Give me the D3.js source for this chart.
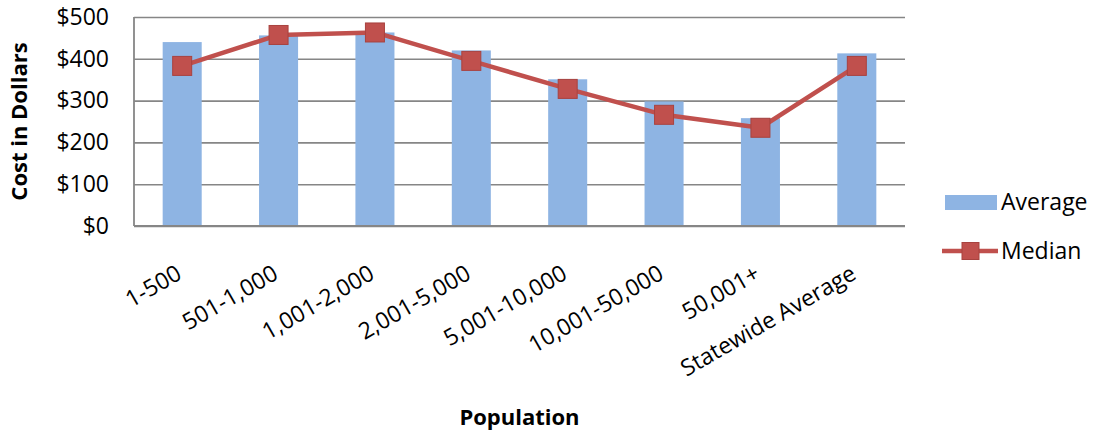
<!DOCTYPE html>
<html>
<head>
<meta charset="utf-8">
<script src="https://cdn.jsdelivr.net/npm/d3@7"></script>
<style>
  html, body { margin: 0; padding: 0; background: #ffffff; }
  svg { display: block; }
  text { font-family: "Open Sans", sans-serif; fill: #000; }
</style>
</head>
<body>
<div id="chart"></div>
<script>
const categories = ["1-500", "501-1,000", "1,001-2,000", "2,001-5,000", "5,001-10,000", "10,001-50,000", "50,001+", "Statewide Average"];
const averageValues = [440, 456, 463, 420, 351, 298, 258, 413];
const medianValues = [383, 457, 463, 395, 328, 266, 235, 383];
const yTicks = [0, 100, 200, 300, 400, 500];
const seriesNames = ["Average", "Median"];

const W = 1094, H = 433;
const margin = { left: 134, right: 189, top: 17, bottom: 207 };
const plotW = W - margin.left - margin.right;
const plotH = H - margin.top - margin.bottom;

const barColor = "#8EB4E3";
const lineColor = "#C0504D";
const markerStroke = "#A8423F";
const gridColor = "#868686";

const svg = d3.select("#chart").append("svg")
  .attr("width", W).attr("height", H);
svg.append("rect").attr("width", W).attr("height", H).attr("fill", "#fff");

const g = svg.append("g").attr("transform", `translate(${margin.left},${margin.top})`);

const x = d3.scaleBand().domain(categories).range([0, plotW]).paddingInner(0).paddingOuter(0);
const y = d3.scaleLinear().domain([0, 500]).range([plotH, 0]);

// gridlines
const yAxis = d3.axisLeft(y).tickValues(yTicks).tickSize(-plotW).tickFormat(d => "$" + d).tickPadding(25);
const ya = g.append("g").call(yAxis);
ya.select(".domain").remove();
ya.selectAll(".tick line").attr("stroke", gridColor).attr("stroke-width", 1.6);
ya.selectAll(".tick text").attr("font-size", 23).attr("font-family", "'Open Sans', sans-serif").attr("fill", "#000");

// bars
const bw = x.bandwidth() * 0.405;
g.append("g").selectAll("rect").data(categories).join("rect")
  .attr("x", (d) => x(d) + x.bandwidth() / 2 - bw / 2)
  .attr("y", (d, i) => y(averageValues[i]))
  .attr("width", bw)
  .attr("height", (d, i) => plotH - y(averageValues[i]))
  .attr("fill", barColor);

// axis lines
g.append("line").attr("x1", 0).attr("x2", 0).attr("y1", 0).attr("y2", plotH)
  .attr("stroke", gridColor).attr("stroke-width", 1.8);
g.append("line").attr("x1", 0).attr("x2", plotW).attr("y1", plotH).attr("y2", plotH)
  .attr("stroke", gridColor).attr("stroke-width", 1.8);

// x axis labels
const xa = g.append("g").attr("transform", `translate(0,${plotH})`)
  .call(d3.axisBottom(x).tickSize(0).tickFormat(d => d));
xa.select(".domain").remove();
xa.selectAll(".tick text")
  .attr("font-size", 23)
  .attr("font-family", "'Open Sans', sans-serif")
  .attr("fill", "#000")
  .attr("text-anchor", "end")
  .attr("dy", null)
  .attr("y", 0)
  .attr("transform", "translate(1,52) rotate(-30)");

// median line
const cx = (d) => x(d) + x.bandwidth() / 2;
const line = d3.line().x((d, i) => cx(categories[i])).y(d => y(d));
g.append("path").datum(medianValues)
  .attr("d", line).attr("fill", "none")
  .attr("stroke", lineColor).attr("stroke-width", 4.5).attr("stroke-linejoin", "round");

const ms = 19;
g.append("g").selectAll("rect").data(medianValues).join("rect")
  .attr("x", (d, i) => cx(categories[i]) - ms / 2)
  .attr("y", d => y(d) - ms / 2)
  .attr("width", ms).attr("height", ms)
  .attr("fill", lineColor).attr("stroke", markerStroke).attr("stroke-width", 1);

// axis titles
svg.append("text")
  .attr("transform", `translate(27,${margin.top + plotH / 2}) rotate(-90)`)
  .attr("text-anchor", "middle")
  .attr("font-size", 22).attr("font-weight", "bold")
  .text("Cost in Dollars");

svg.append("text")
  .attr("x", margin.left + plotW / 2).attr("y", 425)
  .attr("text-anchor", "middle")
  .attr("font-size", 22).attr("font-weight", "bold")
  .text("Population");

// legend
const lg = svg.append("g");
lg.append("rect").attr("x", 945).attr("y", 195).attr("width", 52).attr("height", 15).attr("fill", barColor);
lg.append("text").attr("x", 1001).attr("y", 210).attr("font-size", 23).text(seriesNames[0]);
lg.append("line").attr("x1", 942).attr("x2", 998).attr("y1", 251).attr("y2", 251)
  .attr("stroke", lineColor).attr("stroke-width", 4.5);
lg.append("rect").attr("x", 962).attr("y", 242.5).attr("width", 17).attr("height", 17)
  .attr("fill", lineColor).attr("stroke", markerStroke).attr("stroke-width", 1);
lg.append("text").attr("x", 1001).attr("y", 259).attr("font-size", 23).text(seriesNames[1]);
</script>
</body>
</html>
